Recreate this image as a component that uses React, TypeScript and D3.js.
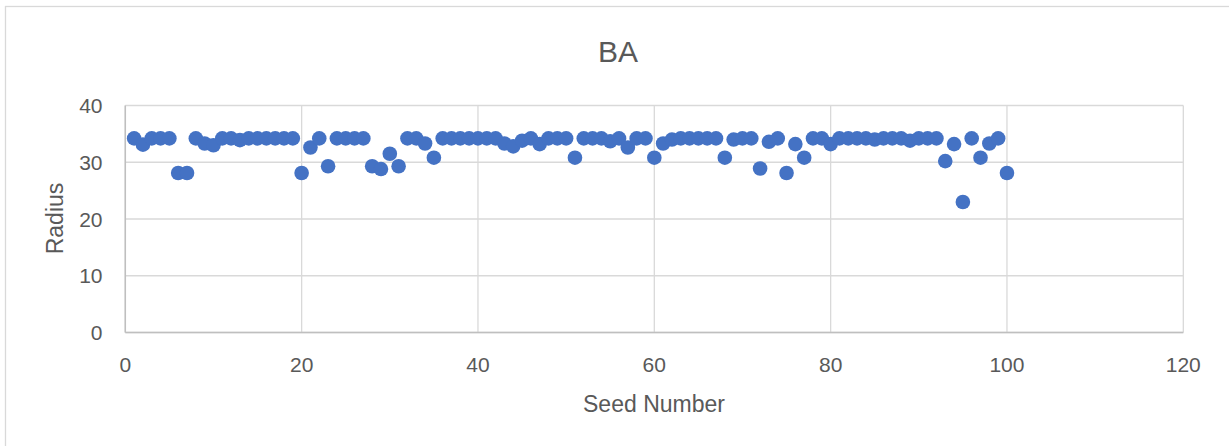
import React from "react";
import * as d3 from "d3";

const title = "BA";
const xAxisTitle = "Seed Number";
const yAxisTitle = "Radius";
const xTicks = [0, 20, 40, 60, 80, 100, 120];
const yTicks = [0, 10, 20, 30, 40];

const seeds: number[] = Array.from({ length: 100 }, (_, i) => i + 1);
const radius: number[] = [
  34.2, 33.1, 34.2, 34.2, 34.2, 28.1, 28.1, 34.2, 33.3, 33.0,
  34.2, 34.2, 33.9, 34.2, 34.2, 34.2, 34.2, 34.2, 34.2, 28.1,
  32.6, 34.2, 29.3, 34.2, 34.2, 34.2, 34.2, 29.3, 28.8, 31.5,
  29.3, 34.2, 34.2, 33.3, 30.8, 34.2, 34.2, 34.2, 34.2, 34.2,
  34.2, 34.2, 33.3, 32.8, 33.8, 34.2, 33.2, 34.2, 34.2, 34.2,
  30.8, 34.2, 34.2, 34.2, 33.7, 34.2, 32.6, 34.2, 34.2, 30.8,
  33.3, 34.0, 34.2, 34.2, 34.2, 34.2, 34.2, 30.8, 34.0, 34.2,
  34.2, 28.9, 33.6, 34.2, 28.1, 33.2, 30.8, 34.2, 34.2, 33.2,
  34.2, 34.2, 34.2, 34.2, 34.0, 34.2, 34.2, 34.2, 33.8, 34.2,
  34.2, 34.2, 30.2, 33.2, 23.0, 34.2, 30.8, 33.3, 34.2, 28.1,
];

const W = 1229;
const H = 446;
const plot = { left: 125.3, right: 1183.3, top: 105.5, bottom: 332.5 };
const FONT = "'Liberation Sans', Arial, sans-serif";
const TEXT = "#595959";

export default function App() {
  const x = d3.scaleLinear().domain([0, 120]).range([plot.left, plot.right]);
  const y = d3.scaleLinear().domain([0, 40]).range([plot.bottom, plot.top]);

  return (
    <svg
      width={W}
      height={H}
      style={{ position: "absolute", left: 0, top: 0, background: "#fff" }}
    >
      <rect x={0} y={0} width={W} height={H} fill="#fff" />
      <rect x={5.5} y={6.5} width={W + 10} height={H + 10} fill="#fff" stroke="#d9d9d9" strokeWidth={1.3} />
      {/* horizontal gridlines */}
      {yTicks.map((t) => (
        <line key={"gy" + t} x1={plot.left} x2={plot.right} y1={y(t)} y2={y(t)} stroke="#d9d9d9" strokeWidth={1.3} />
      ))}
      {/* vertical gridlines */}
      {xTicks.map((t) => (
        <line key={"gx" + t} x1={x(t)} x2={x(t)} y1={plot.top} y2={plot.bottom} stroke="#d9d9d9" strokeWidth={1.3} />
      ))}
      {/* axes */}
      <line x1={plot.left} x2={plot.right} y1={y(0)} y2={y(0)} stroke="#bfbfbf" strokeWidth={1.5} />
      <line x1={x(0)} x2={x(0)} y1={plot.top} y2={plot.bottom} stroke="#bfbfbf" strokeWidth={1.5} />
      {/* y tick labels */}
      {yTicks.map((t) => (
        <text key={"ty" + t} x={102.5} y={y(t)} dy="0.36em" textAnchor="end" fontFamily={FONT} fontSize={21} fill={TEXT}>
          {t}
        </text>
      ))}
      {/* x tick labels */}
      {xTicks.map((t) => (
        <text key={"tx" + t} x={x(t)} y={371.5} textAnchor="middle" fontFamily={FONT} fontSize={21} fill={TEXT}>
          {t}
        </text>
      ))}
      {/* points */}
      {seeds.map((s, i) => (
        <circle key={"p" + s} cx={x(s)} cy={y(radius[i])} r={7.3} fill="#4472C4" />
      ))}
      {/* titles */}
      <text x={618} y={61.5} textAnchor="middle" fontFamily={FONT} fontSize={30} fill={TEXT}>
        {title}
      </text>
      <text x={654} y={411.5} textAnchor="middle" fontFamily={FONT} fontSize={23} fill={TEXT}>
        {xAxisTitle}
      </text>
      <text
        transform={`translate(63,218.5) rotate(-90)`}
        textAnchor="middle"
        fontFamily={FONT}
        fontSize={23}
        fill={TEXT}
      >
        {yAxisTitle}
      </text>
    </svg>
  );
}
